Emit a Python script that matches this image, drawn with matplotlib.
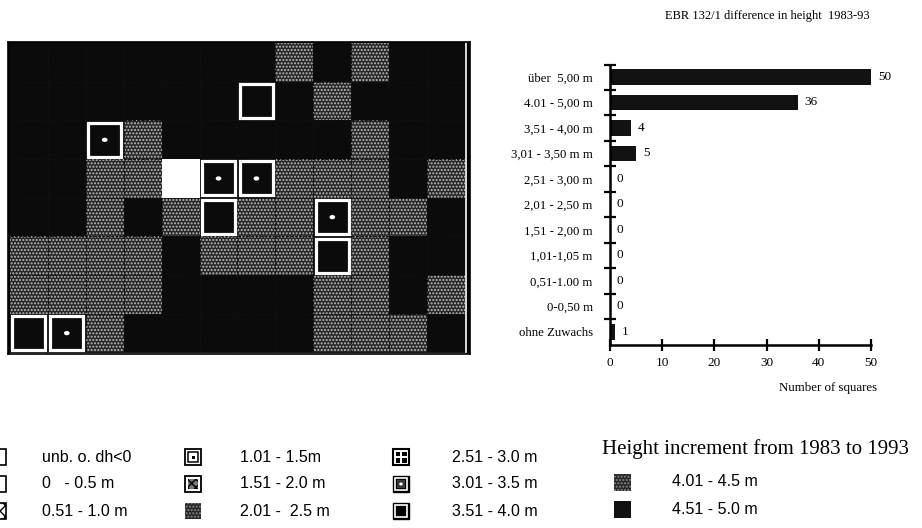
import matplotlib
matplotlib.use("Agg")
import matplotlib.pyplot as plt
from matplotlib.patches import Rectangle, Ellipse

plt.rcParams['hatch.linewidth'] = 1.0

# ---------------- data ----------------
categories = ["über  5,00 m", "4.01 - 5,00 m", "3,51 - 4,00 m", "3,01 - 3,50 m m",
              "2,51 - 3,00 m", "2,01 - 2,50 m", "1,51 - 2,00 m", "1,01-1,05 m",
              "0,51-1.00 m", "0-0,50 m", "ohne Zuwachs"]
counts = [50, 36, 4, 5, 0, 0, 0, 0, 0, 0, 1]
x_ticks = [0, 10, 20, 30, 40, 50]

# map of the 12 x 8 squares
# B = über 5 m, D = 4.01-5.00 m, O = 3.51-4.00 m, P = 3.01-3.50 m, W = ohne Zuwachs
grid_rows = [
    "BBBBBBBDBDBB",
    "BBBBBBOBDBBB",
    "BBPDBBBBBDBB",
    "BBDDWPPDDDBD",
    "BBDBDODDPDDB",
    "DDDDBDDDODBB",
    "DDDDBBBBDDBD",
    "OPDBBBBBDDDB",
]

legend_col1 = ["unb. o. dh<0", "0   - 0.5 m", "0.51 - 1.0 m"]
legend_col2 = ["1.01 - 1.5m", "1.51 - 2.0 m", "2.01 -  2.5 m"]
legend_col3 = ["2.51 - 3.0 m", "3.01 - 3.5 m", "3.51 - 4.0 m"]
legend_col4 = ["4.01 - 4.5 m", "4.51 - 5.0 m"]
legend_title = "Height increment from 1983 to 1993"
chart_title = "EBR 132/1 difference in height  1983-93"
x_label = "Number of squares"

SERIF = ['Liberation Serif', 'DejaVu Serif']
SANS = ['Liberation Sans', 'DejaVu Sans']

W, H = 922, 528
fig = plt.figure(figsize=(W / 100, H / 100), dpi=100)
fig.patch.set_facecolor('white')


def frac(x0, y0, x1, y1):
    return [x0 / W, 1 - y1 / H, (x1 - x0) / W, (y1 - y0) / H]


# ---------------- overlay (legend) ----------------
ov = fig.add_axes([0, 0, 1, 1])
ov.set_xlim(0, W)
ov.set_ylim(H, 0)
ov.axis('off')
ov.patch.set_alpha(0)

DOT_FACE = '#262626'
DOT_HATCH = '#bdbdbd'


def symbol(kind, x, y, s=16):
    if kind == 'empty':
        ov.add_patch(Rectangle((x, y), s, s, fc='white', ec='black', lw=1.2))
    elif kind == 'cross':
        ov.add_patch(Rectangle((x, y), s, s, fc='white', ec='black', lw=1.2, hatch='xxx'))
    elif kind == 'double':
        ov.add_patch(Rectangle((x, y), s, s, fc='white', ec='black', lw=1.3))
        ov.add_patch(Rectangle((x + 3, y + 3), s - 6, s - 6, fc='white', ec='black', lw=1.1))
        ov.add_patch(Rectangle((x + s / 2 - 1.5, y + s / 2 - 1.5), 3, 3, fc='black', lw=0))
    elif kind == 'pattern':
        ov.add_patch(Rectangle((x, y), s, s, fc='white', ec='black', lw=1.3))
        ov.add_patch(Rectangle((x + 3, y + 3), s - 6, s - 6, fc='#777777', ec='black',
                               lw=0, hatch='xxxx'))
    elif kind == 'dotted':
        ov.add_patch(Rectangle((x, y), s, s, fc='#262626', ec='#8a8a8a', lw=0, hatch='.....'))
    elif kind == 'quad':
        ov.add_patch(Rectangle((x, y), s, s, fc='white', ec='black', lw=1.5))
        q = (s - 7) / 2
        for dx in (2.5, 4.5 + q):
            for dy in (2.5, 4.5 + q):
                ov.add_patch(Rectangle((x + dx, y + dy), q, q, fc='black', lw=0))
    elif kind in ('point', 'outline'):
        ov.add_patch(Rectangle((x, y), s, s, fc='black', ec='black', lw=1))
        ov.add_patch(Rectangle((x + 2, y + 2), s - 4, s - 4, fc='black', ec='white', lw=1.2))
        if kind == 'point':
            ov.add_patch(Rectangle((x + 4, y + 4), s - 8, s - 8, fc='#3a3a3a', lw=0))
            ov.add_patch(Ellipse((x + s / 2, y + s / 2), 3.5, 3, fc='white', lw=0))
    elif kind == 'black':
        ov.add_patch(Rectangle((x, y), s, s, fc='#111111', lw=0))


rows_y = [457, 484, 511]
kinds1 = ['empty', 'empty', 'cross']
kinds2 = ['double', 'pattern', 'dotted']
kinds3 = ['quad', 'point', 'outline']
for col_x, txt_x, labels, kinds in [(-10, 42, legend_col1, kinds1),
                                     (185, 240, legend_col2, kinds2),
                                     (393, 452, legend_col3, kinds3)]:
    for yy, lab, kd in zip(rows_y, labels, kinds):
        symbol(kd, col_x, yy - 8)
        ov.text(txt_x, yy, lab, ha='left', va='center', fontsize=11.5, family=SANS)

ov.text(602, 449, legend_title, ha='left', va='center', fontsize=15, family=SERIF)
rows_y4 = [482, 509]
for yy, lab, kd in zip(rows_y4, legend_col4, ['dotted', 'black']):
    symbol(kd, 614, yy - 8, s=17)
    ov.text(672, yy, lab, ha='left', va='center', fontsize=11.5, family=SANS)

# ---------------- grid map ----------------
gx = fig.add_axes(frac(8, 42, 470, 354))
ncols = len(grid_rows[0])
nrows = len(grid_rows)
gx.set_xlim(-0.05, ncols + 0.13)
gx.set_ylim(nrows + 0.04, -0.03)
gx.set_facecolor('black')
for sp in gx.spines.values():
    sp.set_color('black')
    sp.set_linewidth(1.2)
gx.set_xticks([])
gx.set_yticks([])

for r, row in enumerate(grid_rows):
    for c, code in enumerate(row):
        if code == 'B':
            gx.add_patch(Rectangle((c, r), 1, 1, fc='#0b0b0b', lw=0))
        elif code == 'D':
            gx.add_patch(Rectangle((c, r), 1, 1, fc=DOT_FACE, ec=DOT_HATCH, lw=0, hatch='.....'))
        elif code == 'W':
            gx.add_patch(Rectangle((c, r), 1, 1, fc='white', lw=0, zorder=3))
        elif code in ('O', 'P'):
            gx.add_patch(Rectangle((c, r), 1, 1, fc='#0b0b0b', lw=0))
            gx.add_patch(Rectangle((c + 0.065, r + 0.06), 0.87, 0.88, fc='none',
                                   ec='white', lw=2.3, zorder=3))
            if code == 'P':
                gx.add_patch(Ellipse((c + 0.5, r + 0.5), 0.15, 0.11, fc='white', lw=0, zorder=3))

# faint cell divisions
for c in range(1, ncols):
    gx.plot([c, c], [0, nrows], color='#111111', lw=0.7, ls=(0, (3, 1.5)), zorder=2)
for r in range(1, nrows):
    gx.plot([0, ncols], [r, r], color='#111111', lw=0.7, ls=(0, (3, 1.5)), zorder=2)
gx.plot([ncols + 0.02, ncols + 0.02], [0, nrows], color='white', lw=1.2)
gx.plot([0, ncols], [nrows + 0.01, nrows + 0.01], color='#dddddd', lw=0.9)

# ---------------- bar chart ----------------
bx = fig.add_axes(frac(610, 65, 871, 345))
ypos = list(range(len(categories)))
bars = bx.barh(ypos, counts, height=0.6, color='#121212')
bx.set_xlim(0, 50)
bx.set_ylim(len(categories) - 0.49, -0.47)
bx.set_xticks(x_ticks)
bx.set_xticklabels([str(t) for t in x_ticks], fontsize=9.5, family=SERIF)
bx.set_yticks(ypos)
bx.set_yticklabels(categories, fontsize=9.2, family=SERIF)
bx.set_yticks([p + 0.5 for p in ypos[:-1]] + [-0.47], minor=True)
bx.tick_params(axis='y', which='major', length=0, pad=12.5)
bx.tick_params(axis='y', which='minor', direction='inout', length=8, width=1.6)
bx.tick_params(axis='x', which='major', direction='inout', length=9, width=1.6, pad=4)
for side in ('top', 'right'):
    bx.spines[side].set_visible(False)
for side in ('left', 'bottom'):
    bx.spines[side].set_linewidth(1.8)
bx.patch.set_alpha(0)
for y, v in zip(ypos, counts):
    bx.annotate(str(v), xy=(v, y), xytext=(5, 0), textcoords='offset points',
                ha='left', va='center', fontsize=9.5, family=SERIF, annotation_clip=False)

fig.text(767 / W, 1 - 16 / H, chart_title, ha='center', va='center', fontsize=9, family=SERIF)
fig.text(877 / W, 1 - 388 / H, x_label, ha='right', va='center', fontsize=9.3, family=SERIF)

fig.savefig('out.png', dpi=100)
